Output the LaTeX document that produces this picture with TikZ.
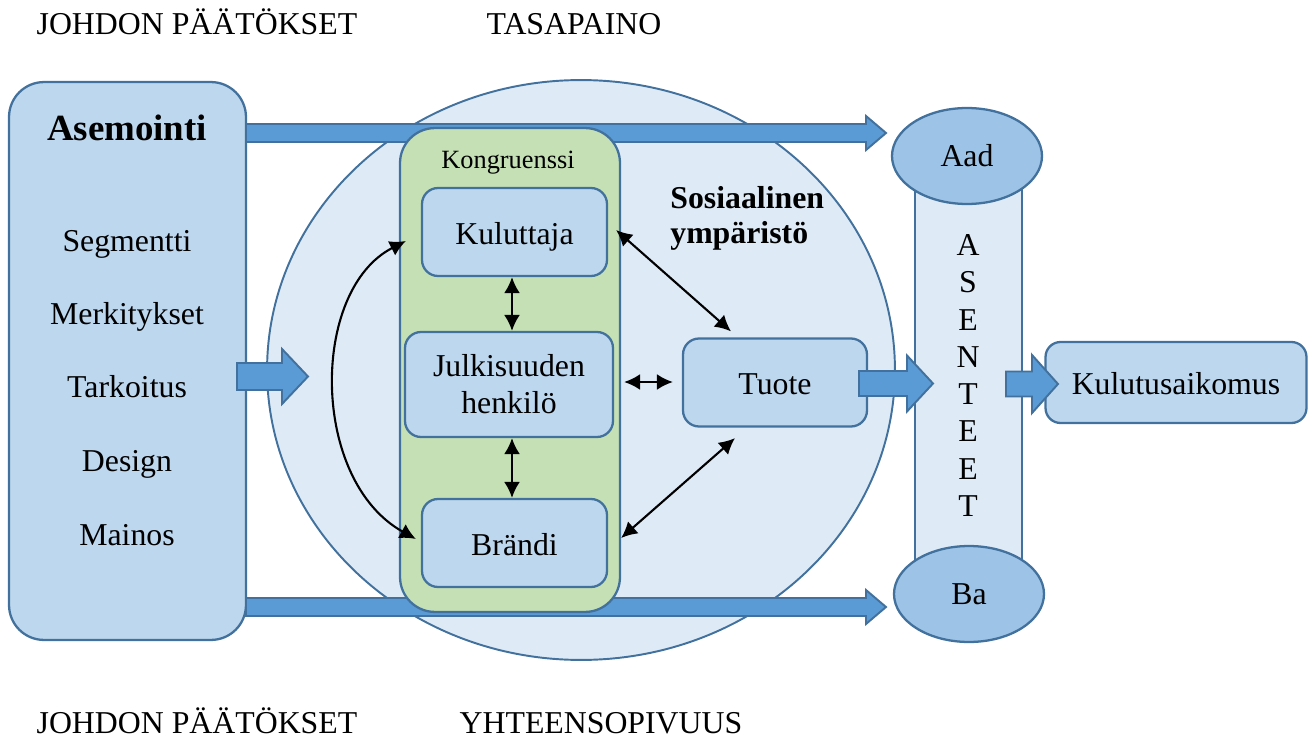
\documentclass[tikz,border=0pt]{standalone}
\usepackage{fontspec}
\setmainfont{Liberation Serif}
\usetikzlibrary{arrows.meta,shapes.geometric}

\definecolor{edgeblue}{HTML}{41719C}
\definecolor{paleblue}{HTML}{DEEBF7}
\definecolor{boxblue}{HTML}{BDD7EE}
\definecolor{midblue}{HTML}{9DC3E6}
\definecolor{arrowblue}{HTML}{5B9BD5}
\definecolor{sage}{HTML}{C5E0B4}

\newcommand\bodysize{\fontsize{18.1pt}{21pt}\selectfont}
% wide block arrow: x-start, x-tip, y-centre, shaft half-height, head half-height, head length
\newcommand\blockarrow[6]{%
  \draw[barrow] (#1,#3-#4) -- (#2-#6,#3-#4) -- (#2-#6,#3-#5) -- (#2,#3)
    -- (#2-#6,#3+#5) -- (#2-#6,#3+#4) -- (#1,#3+#4) -- cycle;}

\begin{document}
\begin{tikzpicture}[x=0.02cm,y=-0.02cm,
  outline/.style={draw=edgeblue, line width=1.3pt},
  panel/.style={outline, fill=boxblue, rounded corners=0.32cm, inner sep=0pt,
    font=\bodysize, align=center},
  oneline/.style={text height=14pt, text depth=0pt},
  barrow/.style={draw=edgeblue, fill=arrowblue, line width=1.1pt},
  link/.style={{Latex[length=0.32cm,width=0.32cm]}-{Latex[length=0.32cm,width=0.32cm]},
    line width=1.2pt},
  label/.style={font=\bodysize, inner sep=0pt}]
\useasboundingbox (0,0) rectangle (1312,740);

% headings
\node[label, anchor=base] (h1) at (197,35) {JOHDON PÄÄTÖKSET};
\node[label, anchor=base] (h2) at (574,35) {TASAPAINO};
\node[label, anchor=base] (h3) at (197,733) {JOHDON PÄÄTÖKSET};
\node[label, anchor=base] (h4) at (601,733) {YHTEENSOPIVUUS};

% positioning panel
\node[outline, fill=boxblue, rounded corners=0.7cm, inner sep=0pt,
  minimum width=4.74cm, minimum height=11.16cm] (pos) at (127.5,361) {};
\node[inner sep=0pt, font=\fontsize{21pt}{25pt}\selectfont\bfseries, anchor=base]
  (asem) at (127,140) {Asemointi};
\node[label, anchor=base] (seg) at (127,251) {Segmentti};
\node[label, anchor=base] (mer) at (127,324) {Merkitykset};
\node[label, anchor=base] (tar) at (127,397) {Tarkoitus};
\node[label, anchor=base] (des) at (127,471) {Design};
\node[label, anchor=base] (mai) at (127,545) {Mainos};

% social environment
\node[ellipse, outline, line width=1.1pt, fill=paleblue, inner sep=0pt,
  minimum width=12.56cm, minimum height=11.6cm] (soc) at (581,370) {};

% management flows to the attitudes
\blockarrow{246}{886}{133}{9}{17}{20}
\blockarrow{246}{886}{607}{9}{17}{20}

% congruence panel
\node[outline, fill=sage, rounded corners=0.7cm, inner sep=0pt,
  minimum width=4.4cm, minimum height=9.68cm] (kong) at (510,370) {};
\node[inner sep=0pt, font=\fontsize{15pt}{18pt}\selectfont, anchor=base]
  (kongl) at (508,169) {Kongruenssi};

\node[panel, oneline, minimum width=3.7cm, minimum height=1.76cm] (kul) at (514.5,232) {Kuluttaja};
\node[panel, minimum width=4.16cm, minimum height=2.1cm] (julk) at (509,384.5)
  {Julkisuuden\\henkilö};
\node[panel, oneline, minimum width=3.7cm, minimum height=1.76cm] (bra) at (514.5,543) {Brändi};
\node[panel, oneline, minimum width=3.68cm, minimum height=1.76cm] (tuo) at (775,382.5) {Tuote};

\node[label, font=\bodysize\bfseries, anchor=base west] (sos1) at (670,208) {Sosiaalinen};
\node[label, font=\bodysize\bfseries, anchor=base west] (sos2) at (670,243) {ympäristö};

% attitudes column
\node[outline, fill=paleblue, inner sep=0pt, minimum width=2.14cm,
  minimum height=8.78cm] (att) at (968.5,374.5) {};
\node[inner sep=0pt, align=center, font=\fontsize{18.1pt}{21.2pt}\selectfont]
  (attl) at (968,375.5) {A\\S\\E\\N\\T\\E\\E\\T};
\node[ellipse, outline, fill=midblue, inner sep=0pt, minimum width=3cm,
  minimum height=1.92cm, font=\bodysize] (aad) at (967,156) {Aad};
\node[ellipse, outline, fill=midblue, inner sep=0pt, minimum width=3cm,
  minimum height=1.92cm, font=\bodysize] (ba) at (969,594) {Ba};

% purchase intention
\node[panel, oneline, rounded corners=0.3cm, minimum width=5.22cm, minimum height=1.62cm]
  (int) at (1176,382.5) {Kulutusaikomus};

% block arrows
\blockarrow{237}{308}{376.5}{13.5}{27.5}{26}
\blockarrow{859}{933}{383.5}{12.5}{28}{26}
\blockarrow{1006}{1058}{384}{12.5}{29}{26}

% relations
\draw[link] (kul.south -| 512,0) -- (julk.north -| 512,0);
\draw[link] (julk.south -| 512,0) -- (bra.north -| 512,0);
\draw[link, shorten <=0.2cm, shorten >=0.18cm] (julk.east |- 0,382) -- (tuo.west |- 0,382);
\draw[link] ([shift={(8,-2)}]kul.east) -- ([shift={(-44,-6)}]tuo.north);
\draw[link] ([shift={(13,-5)}]bra.east) -- ([shift={(-40,10.5)}]tuo.south);
\draw[link] ([shift={(-15,9)}]kul.west) .. controls (310,290) and (310,480)
  .. ([shift={(-5,-4)}]bra.west);
\end{tikzpicture}
\end{document}
